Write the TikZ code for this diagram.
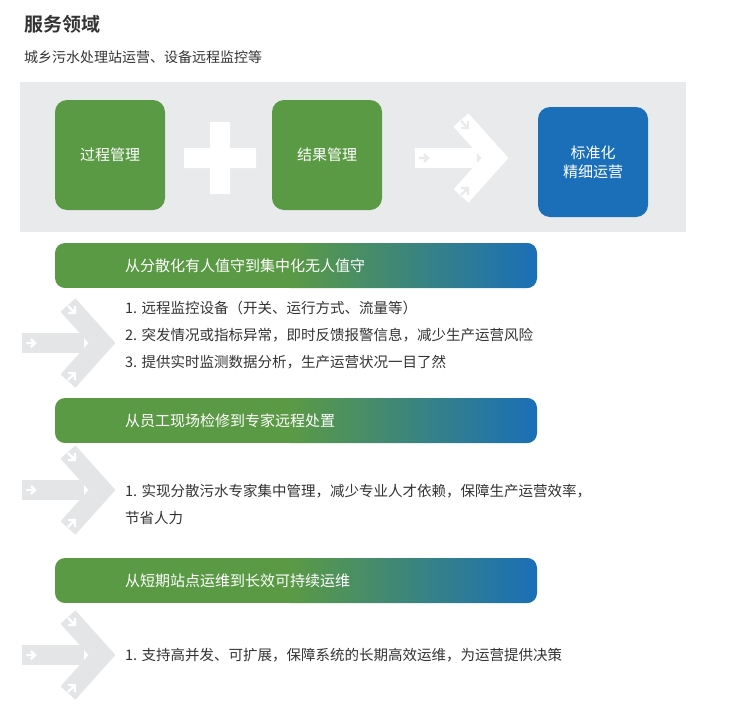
\documentclass[tikz,border=0pt]{standalone}
\usepackage{fontspec}
\setmainfont{Noto Sans CJK SC}[BoldFont={Noto Sans CJK SC Bold}]
\definecolor{gbg}{HTML}{E9EAEB}
\definecolor{lar}{HTML}{E4E5E7}
\definecolor{grn}{HTML}{5B9A45}
\definecolor{blu}{HTML}{1A6FB8}
\definecolor{txt}{HTML}{333333}
\tikzset{
  box/.style={rounded corners=12pt,minimum width=110pt,minimum height=110pt,text=white,font=\fontsize{15}{19}\selectfont,align=center},
  body/.style={anchor=north west,text=txt,font=\fontsize{14.5}{27}\selectfont,align=left,inner sep=0pt},
  bantext/.style={anchor=west,text=white,font=\fontsize{15}{18}\selectfont,inner sep=0pt},
  pics/bigarrow/.style 2 args={code={
    \fill[#1] (0,-10) rectangle (62,10);
    \draw[#1,line width=20pt,miter limit=10] (46,38)--(80,0)--(46,-38);
    \draw[#2,line width=2.2pt] (4,0)--(13,0) (9,4)--(13,0)--(9,-4);
    \draw[#2,line width=2.2pt] (46,-37)--(53,-30) (53,-37)--(53,-30)--(46,-30);
    \draw[#2,line width=2.2pt] (46,37)--(53,30) (53,37)--(53,30)--(46,30);
  }}
}
\begin{document}
\begin{tikzpicture}[x=1pt,y=-1pt]
\useasboundingbox (0,0) rectangle (746,723);
\node[anchor=west,font=\fontsize{19}{22}\selectfont\bfseries,text=txt,inner sep=0pt] (title) at (24,24) {服务领域};
\node[anchor=west,font=\fontsize{14}{17}\selectfont,text=txt,inner sep=0pt] (sub) at (24,57) {城乡污水处理站运营、设备远程监控等};
\fill[gbg] (20,82) rectangle (686,232);
\node[box,fill=grn] (b1) at (110,155) {过程管理};
\node[box,fill=grn] (b2) at (327,155) {结果管理};
\node[box,fill=blu] (b3) at (593,162) {标准化\\精细运营};
\fill[white] (184,148) rectangle (256,168) (210,122) rectangle (230,194);
\pic at (415,158) {bigarrow={white}{gbg}};
\foreach \y/\t in {243/从分散化有人值守到集中化无人值守,398/从员工现场检修到专家远程处置,558/从短期站点运维到长效可持续运维}{
  \begin{scope}
  \clip[rounded corners=10pt] (55,\y) rectangle (537,\y+45);
  \fill[grn] (55,\y) rectangle (537,\y+45);
  \shade[left color=grn,right color=blu] (290,\y) rectangle (537,\y+45);
  \end{scope}
  \node[bantext] at (125,\y+22.5) {\t};
}
\pic at (22,343) {bigarrow={lar}{white}};
\pic at (22,490) {bigarrow={lar}{white}};
\pic at (22,655) {bigarrow={lar}{white}};
\node[body] (t1) at (125,301) {1. 远程监控设备（开关、运行方式、流量等）\\2. 突发情况或指标异常，即时反馈报警信息，减少生产运营风险\\3. 提供实时监测数据分析，生产运营状况一目了然};
\node[body] (t2) at (125,484) {1. 实现分散污水专家集中管理，减少专业人才依赖，保障生产运营效率，\\节省人力};
\node[body] (t3) at (125,648) {1. 支持高并发、可扩展，保障系统的长期高效运维，为运营提供决策};
\end{tikzpicture}
\end{document}
